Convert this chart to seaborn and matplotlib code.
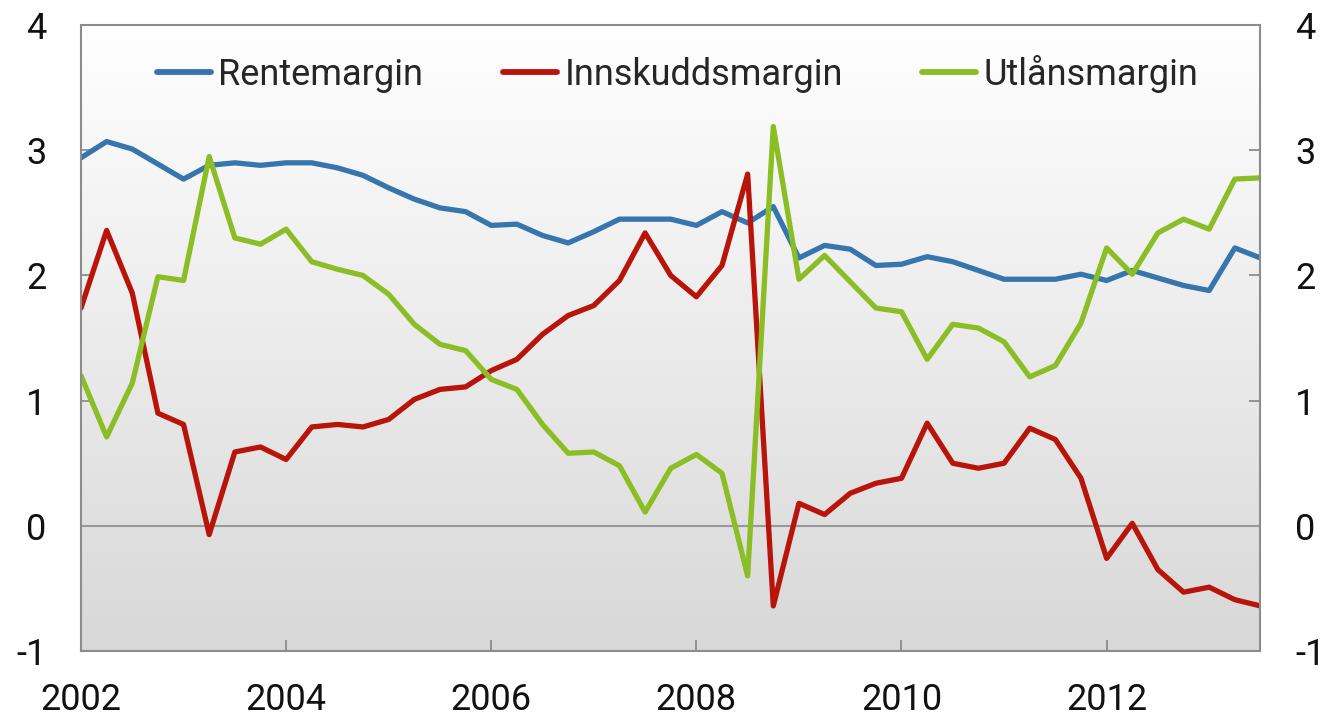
import numpy as np
import pandas as pd
import matplotlib
matplotlib.use('Agg')
import matplotlib.pyplot as plt
import seaborn as sns
from matplotlib.colors import LinearSegmentedColormap

# quarterly margins, 2002Q1 - 2013Q3 (percentage points)
quarters = pd.period_range('2002Q1', '2013Q3', freq='Q')

rentemargin = [2.94, 3.07, 3.01, 2.89, 2.77, 2.88, 2.90, 2.88, 2.90, 2.90,
               2.86, 2.80, 2.70, 2.61, 2.54, 2.51, 2.40, 2.41, 2.32, 2.26,
               2.35, 2.45, 2.45, 2.45, 2.40, 2.51, 2.42, 2.55, 2.14, 2.24,
               2.21, 2.08, 2.09, 2.15, 2.11, 2.04, 1.97, 1.97, 1.97, 2.01,
               1.96, 2.04, 1.98, 1.92, 1.88, 2.22, 2.14]

innskuddsmargin = [1.74, 2.36, 1.86, 0.90, 0.81, -0.07, 0.59, 0.63, 0.53, 0.79,
                   0.81, 0.79, 0.85, 1.01, 1.09, 1.11, 1.24, 1.33, 1.53, 1.68,
                   1.76, 1.96, 2.34, 2.00, 1.83, 2.08, 2.81, -0.64, 0.18, 0.09,
                   0.26, 0.34, 0.38, 0.82, 0.50, 0.46, 0.50, 0.78, 0.69, 0.38,
                   -0.26, 0.02, -0.35, -0.53, -0.49, -0.59, -0.64]

utlaansmargin = [1.20, 0.71, 1.14, 1.99, 1.96, 2.95, 2.30, 2.25, 2.37, 2.11,
                 2.05, 2.00, 1.85, 1.61, 1.45, 1.40, 1.17, 1.09, 0.81, 0.58,
                 0.59, 0.48, 0.11, 0.46, 0.57, 0.42, -0.40, 3.19, 1.97, 2.16,
                 1.95, 1.74, 1.71, 1.33, 1.61, 1.58, 1.47, 1.19, 1.28, 1.62,
                 2.22, 2.01, 2.34, 2.45, 2.37, 2.77, 2.78]

series_names = ['Rentemargin', 'Innskuddsmargin', 'Utlånsmargin']
colors = ['#3775ad', '#b81409', '#8bbd25']
y_ticks = [-1, 0, 1, 2, 3, 4]
x_ticks = [2002, 2004, 2006, 2008, 2010, 2012]

t = quarters.year + (quarters.quarter - 1) / 4
df = pd.DataFrame({'t': np.tile(t, 3),
                   'value': rentemargin + innskuddsmargin + utlaansmargin,
                   'serie': np.repeat(series_names, len(t))})

sns.set_style('white')
plt.rcParams['font.family'] = ['Roboto', 'DejaVu Sans']
plt.rcParams['axes.unicode_minus'] = False

fig = plt.figure(figsize=(13.32, 7.18), dpi=100)
ax = fig.add_axes([0.0608, 0.0933, 0.8855, 0.8717])

# background gradient, white at the top to light grey at the bottom
grad = LinearSegmentedColormap.from_list('bg', ['#ffffff', '#d8d8d8'])
ax.imshow(np.linspace(0, 1, 256).reshape(-1, 1), cmap=grad, aspect='auto',
          extent=[2002, 2013.5, -1, 4], origin='upper', zorder=0)

ax.axhline(0, color='#999999', lw=1.5, zorder=1)

sns.lineplot(data=df, x='t', y='value', hue='serie', hue_order=series_names,
             palette=colors, linewidth=3.8, ax=ax, zorder=3)

ax.set_xlim(2002, 2013.5)
ax.set_ylim(-1, 4)
ax.set_xticks(x_ticks)
ax.set_yticks(y_ticks)
ax.set_xlabel('')
ax.set_ylabel('')

for s in ax.spines.values():
    s.set_color('#8c8c8c')
    s.set_linewidth(1.5)
    s.set_zorder(4)

ax.tick_params(axis='both', direction='in', length=8, width=1.3,
               color='#8c8c8c', labelsize=26, labelcolor='#111111')
ax.tick_params(axis='y', left=True, right=True, labelleft=True,
               labelright=True, pad=25)
ax.tick_params(axis='x', bottom=True, pad=22)

leg = ax.legend(loc='upper center', bbox_to_anchor=(0.506, 1.005), ncol=3,
                frameon=False, fontsize=26, handlelength=1.5,
                handletextpad=0.2, columnspacing=2.2)
for line in leg.get_lines():
    line.set_linewidth(4.2)
    line.set_solid_capstyle('round')

fig.savefig('out.png', dpi=100)
